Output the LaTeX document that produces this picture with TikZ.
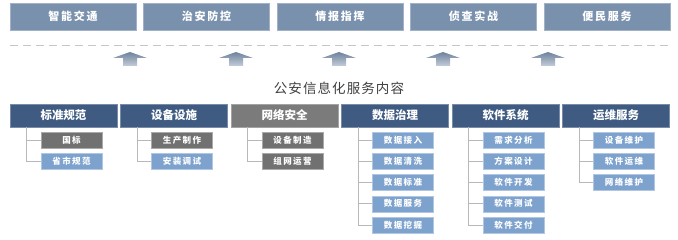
\documentclass[tikz,border=0pt]{standalone}
\usepackage{fontspec}
\newfontfamily\cjk{Noto Sans CJK SC}
\newfontfamily\cjkwide[LetterSpace=16]{Noto Sans CJK SC}
\newfontfamily\cjktitle[LetterSpace=8]{Noto Sans CJK SC}
\usepackage{xcolor}
\usetikzlibrary{positioning}

\definecolor{appblue}{HTML}{7A91AD}
\definecolor{navy}{HTML}{3F5B82}
\definecolor{hdrgray}{HTML}{7B7B7B}
\definecolor{itemgray}{HTML}{717171}
\definecolor{itemblue}{HTML}{7DA2CD}
\definecolor{linegray}{HTML}{B8B8B8}

\begin{document}
\begin{tikzpicture}[x=1pt, y=-1pt,
    appbox/.style={draw=appblue!70!white, fill=appblue, text=white, minimum width=126pt, minimum height=27pt, inner sep=0pt, font=\cjkwide\bfseries\fontsize{11}{12}\selectfont},
    headbox/.style={draw=#1!70!white, fill=#1, text=white, minimum width=107pt, minimum height=23pt, inner sep=0pt, font=\cjk\bfseries\fontsize{11.5}{12}\selectfont},
    itembox/.style={draw=#1!60!white, fill=#1, text=white, minimum width=61pt, minimum height=16pt, inner sep=0pt, font=\cjkwide\bfseries\fontsize{8.5}{9}\selectfont},
    branch/.style={draw=linegray, line width=0.8pt},
    liftarrow/.style={top color=appblue!90!black, bottom color=appblue!45!white, draw=none}]
        \useasboundingbox (0,0) rectangle (678,240);
        \fill[white] (0,0) rectangle (678,240);

        % Applications
        \node[appbox] (app1) at (73,16.5) {智能交通};
        \node[appbox] (app2) at (206.5,16.5) {治安防控};
        \node[appbox] (app3) at (340,16.5) {情报指挥};
        \node[appbox] (app4) at (473.5,16.5) {侦查实战};
        \node[appbox] (app5) at (607,16.5) {便民服务};

        \draw[linegray!80!white, line width=0.9pt, dash pattern=on 8pt off 5pt] (10,45) -- (670,45);

        % Lift arrows
        \path[liftarrow] (130,52) -- ++(17,6) -- ++(-10,0) -- ++(0,8) -- ++(-14,0) -- ++(0,-8) -- ++(-10,0) -- cycle;
        \path[liftarrow] (236,52) -- ++(17,6) -- ++(-10,0) -- ++(0,8) -- ++(-14,0) -- ++(0,-8) -- ++(-10,0) -- cycle;
        \path[liftarrow] (339,52) -- ++(17,6) -- ++(-10,0) -- ++(0,8) -- ++(-14,0) -- ++(0,-8) -- ++(-10,0) -- cycle;
        \path[liftarrow] (443,52) -- ++(17,6) -- ++(-10,0) -- ++(0,8) -- ++(-14,0) -- ++(0,-8) -- ++(-10,0) -- cycle;
        \path[liftarrow] (548,52) -- ++(17,6) -- ++(-10,0) -- ++(0,8) -- ++(-14,0) -- ++(0,-8) -- ++(-10,0) -- cycle;

        \node[text=black!75, font=\cjktitle\fontsize{13.5}{14}\selectfont] (title) at (339,88) {公安信息化服务内容};

        % Service groups
        \node[headbox=navy] (h1) at (63.5,115.5) {标准规范};
        \node[headbox=navy] (h2) at (174,115.5) {设备设施};
        \node[headbox=hdrgray] (h3) at (284.5,115.5) {网络安全};
        \node[headbox=navy] (h4) at (395,115.5) {数据治理};
        \node[headbox=navy] (h5) at (505.5,115.5) {软件系统};
        \node[headbox=navy] (h6) at (616,115.5) {运维服务};

        % Group 1
        \node[itembox=itemgray] (i11) at (71.5,140) {国标};
        \node[itembox=itemblue] (i12) at (71.5,161.25) {省市规范};
        \draw[branch] ([xshift=17pt]h1.south west) |- (i11.west);
        \draw[branch] ([xshift=17pt]h1.south west) |- (i12.west);

        % Group 2
        \node[itembox=itemgray] (i21) at (182,140) {生产制作};
        \node[itembox=itemblue] (i22) at (182,161.25) {安装调试};
        \draw[branch] ([xshift=17pt]h2.south west) |- (i21.west);
        \draw[branch] ([xshift=17pt]h2.south west) |- (i22.west);

        % Group 3
        \node[itembox=itemgray] (i31) at (292.5,140) {设备制造};
        \node[itembox=itemgray] (i32) at (292.5,161.25) {组网运营};
        \draw[branch] ([xshift=17pt]h3.south west) |- (i31.west);
        \draw[branch] ([xshift=17pt]h3.south west) |- (i32.west);

        % Group 4
        \node[itembox=itemblue] (i41) at (403,140) {数据接入};
        \node[itembox=itemblue] (i42) at (403,161.25) {数据清洗};
        \node[itembox=itemblue] (i43) at (403,182.5) {数据标准};
        \node[itembox=itemblue] (i44) at (403,203.75) {数据服务};
        \node[itembox=itemblue] (i45) at (403,225) {数据挖掘};
        \draw[branch] ([xshift=17pt]h4.south west) |- (i41.west);
        \draw[branch] ([xshift=17pt]h4.south west) |- (i42.west);
        \draw[branch] ([xshift=17pt]h4.south west) |- (i43.west);
        \draw[branch] ([xshift=17pt]h4.south west) |- (i44.west);
        \draw[branch] ([xshift=17pt]h4.south west) |- (i45.west);

        % Group 5
        \node[itembox=itemblue] (i51) at (513.5,140) {需求分析};
        \node[itembox=itemblue] (i52) at (513.5,161.25) {方案设计};
        \node[itembox=itemblue] (i53) at (513.5,182.5) {软件开发};
        \node[itembox=itemblue] (i54) at (513.5,203.75) {软件测试};
        \node[itembox=itemblue] (i55) at (513.5,225) {软件交付};
        \draw[branch] ([xshift=17pt]h5.south west) |- (i51.west);
        \draw[branch] ([xshift=17pt]h5.south west) |- (i52.west);
        \draw[branch] ([xshift=17pt]h5.south west) |- (i53.west);
        \draw[branch] ([xshift=17pt]h5.south west) |- (i54.west);
        \draw[branch] ([xshift=17pt]h5.south west) |- (i55.west);

        % Group 6
        \node[itembox=itemblue] (i61) at (624,140) {设备维护};
        \node[itembox=itemblue] (i62) at (624,161.25) {软件运维};
        \node[itembox=itemblue] (i63) at (624,182.5) {网络维护};
        \draw[branch] ([xshift=17pt]h6.south west) |- (i61.west);
        \draw[branch] ([xshift=17pt]h6.south west) |- (i62.west);
        \draw[branch] ([xshift=17pt]h6.south west) |- (i63.west);
      \end{tikzpicture}
\end{document}
